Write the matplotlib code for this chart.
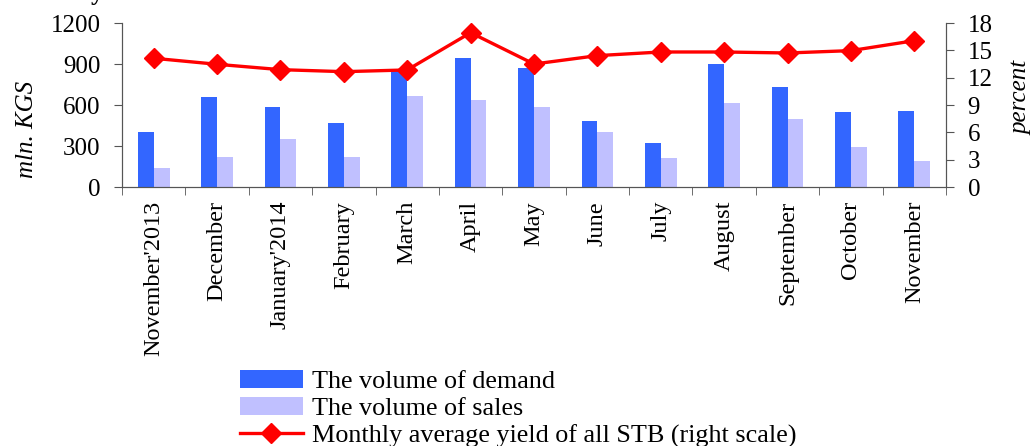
import matplotlib
matplotlib.use("Agg")
import matplotlib.pyplot as plt
import numpy as np

months = ["November'2013", "December", "January'2014", "February", "March", "April",
          "May", "June", "July", "August", "September", "October", "November"]
demand = [400, 661, 583, 466, 856, 942, 869, 483, 322, 903, 732, 547, 554]
sales = [141, 222, 351, 220, 666, 634, 586, 403, 212, 615, 496, 293, 188]
yield_pct = [14.13, 13.47, 12.88, 12.66, 12.85, 16.94, 13.5, 14.42, 14.82, 14.82, 14.71, 14.97, 16.06]

plt.rcParams["font.family"] = "Liberation Serif"
plt.rcParams["font.size"] = 18

fig = plt.figure(figsize=(10.32, 4.46), dpi=100)
ax = fig.add_axes([0.1182, 0.5807, 0.7985, 0.3677])
ax2 = ax.twinx()

x = np.arange(len(months))
w = 0.25
b1 = ax.bar(x - w / 2, demand, w, color="#3366FF", label="The volume of demand")
b2 = ax.bar(x + w / 2, sales, w, color="#C0C0FF", label="The volume of sales")
l1, = ax2.plot(x, yield_pct, color="#FF0000", lw=2.4, marker="D", markersize=10,
               label="Monthly average yield of all STB (right scale)")

ax.set_xlim(-0.5, len(months) - 0.5)
ax.set_ylim(0, 1200)
ax.set_yticks([0, 300, 600, 900, 1200])
ax2.set_ylim(0, 18)
ax2.set_yticks([0, 3, 6, 9, 12, 15, 18])

ax.set_xticks(x)
ax.set_xticklabels(months, rotation=90, fontsize=17.5)
ax.set_xticks(np.arange(-0.5, len(months)), minor=True)
ax.tick_params(axis="x", which="major", length=0, pad=10)
ax.tick_params(axis="x", which="minor", length=5.5, direction="out", color="#555555")
ax.tick_params(axis="y", length=5.5, direction="out", color="#555555", pad=10)
ax2.tick_params(axis="y", length=5.5, direction="out", color="#555555", pad=10)

for a in (ax, ax2):
    a.spines["top"].set_visible(False)
    for s in ("left", "right", "bottom"):
        a.spines[s].set_color("#555555")

ax.text(-0.115, 0.35, "mln. KGS", style="italic", rotation=90,
        ha="center", va="center", transform=ax.transAxes)
ax.text(1.092, 0.546, "percent", style="italic", rotation=90,
        ha="center", va="center", transform=ax.transAxes)

fig.text(0.088, 1.0, "y", fontsize=18, fontweight="bold", va="baseline")

fig.legend(handles=[b1, b2, l1], loc="upper left", bbox_to_anchor=(0.2326, 0.17),
           frameon=False, handlelength=2.4, handletextpad=0.36, labelspacing=0.14,
           borderpad=0, borderaxespad=0, fontsize=18.8)

fig.savefig("out.png", dpi=100)
